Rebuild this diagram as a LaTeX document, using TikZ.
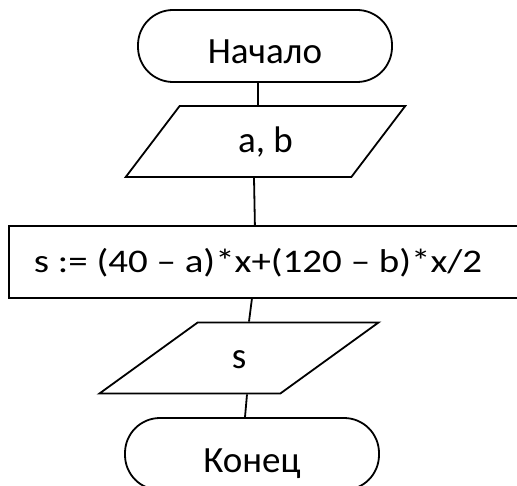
\documentclass[tikz,border=0pt]{standalone}
\usepackage{fontspec}
\usepackage{graphicx}
\setmainfont{Carlito}
\usetikzlibrary{shapes.geometric}

\tikzset{
  terminal/.style={draw, rectangle, rounded corners=35pt, minimum width=254pt, minimum height=72pt,
    inner sep=0pt, text height=36pt, text depth=0pt},
  iobox/.style={draw, trapezium, trapezium left angle=52, trapezium right angle=128,
    trapezium stretches=true, minimum width=280pt, minimum height=71pt, inner sep=0pt,
    text height=22pt, text depth=0pt},
  calcbox/.style={draw, rectangle, anchor=west, minimum height=72pt, minimum width=700pt,
    inner xsep=25pt, inner ysep=0pt, text height=22pt, text depth=0pt,
    font=\fontsize{33}{40}\selectfont},
}

\begin{document}
\begin{tikzpicture}[x=1pt, y=-1pt, line width=1.8pt, font=\fontsize{37}{44}\selectfont]
\useasboundingbox (0,0) rectangle (517,486);

\node[terminal] (start) at (265,46) {Начало};
\node[iobox] (ab) at (265.5,141.5) {a, b};
\node[calcbox] (calc) at (8,262) {\makebox[650pt][l]{\scalebox{1.18}[1]{s := (40 – a)*x+(120 – b)*x/2}}};
\node[iobox] (out) at (239,358) {s};
\node[terminal] (stop) at (252,454) {Конец};

\draw ([xshift=-7pt]start.south) -- ([xshift=-7.5pt]ab.north);
\draw ([xshift=-11.5pt]ab.south) -- ([xshift=-104pt]calc.north);
\draw ([xshift=-107pt]calc.south) -- ([xshift=10pt]out.north);
\draw ([xshift=8pt]out.south) -- ([xshift=-7pt]stop.north);
\end{tikzpicture}
\end{document}
